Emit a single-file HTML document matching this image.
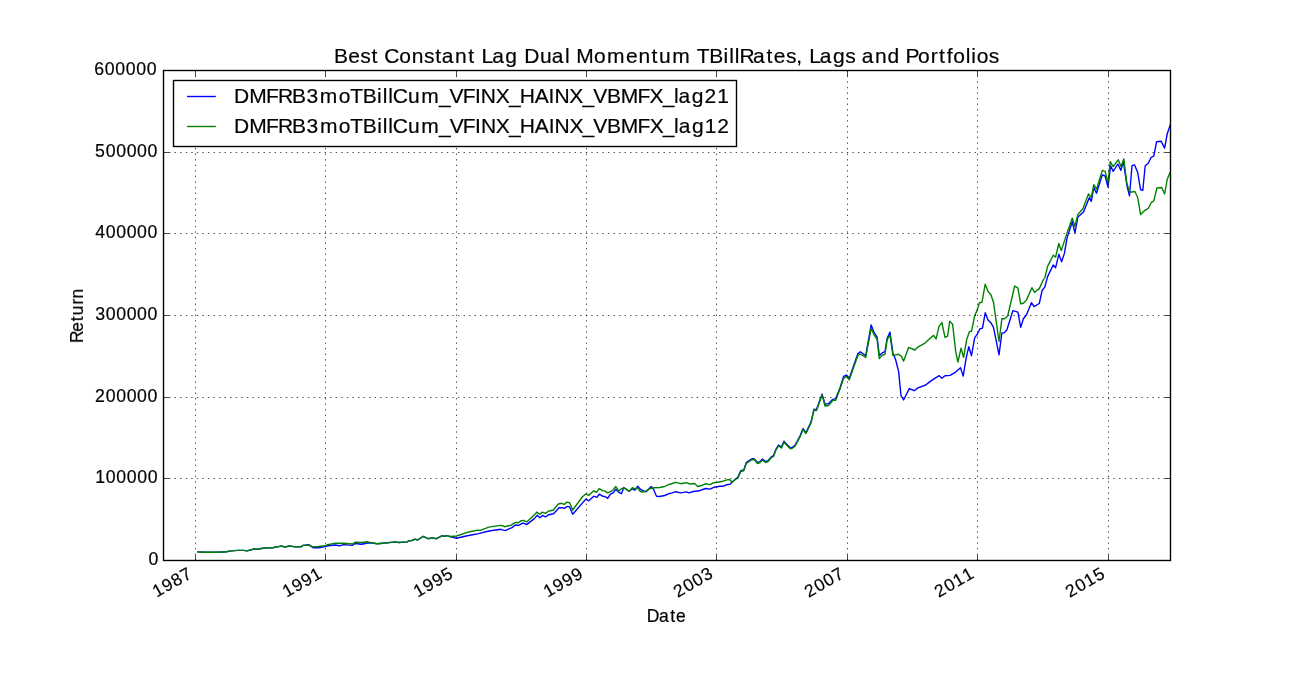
<!DOCTYPE html>
<html><head><meta charset="utf-8"><title>Best Constant Lag Dual Momentum TBillRates, Lags and Portfolios</title>
<style>html,body{margin:0;padding:0;background:#fff;width:1300px;height:700px;overflow:hidden}svg{display:block}text{font-family:"Liberation Sans",sans-serif;fill:#000}.tx{opacity:0.999}.tx text{stroke:#000;stroke-width:0.2px}</style></head><body>
<svg width="1300" height="700" viewBox="0 0 1300 700">
<rect x="0" y="0" width="1300" height="700" fill="#fff"/>
<polyline points="197.1,551.9 205.4,552.3 216.9,552.2 226.2,551.7 231.5,550.9 237.7,550.4 243.8,550.4 246.9,550.9 251.5,549.8 253.8,548.8 256.9,549.2 263.1,548.2 266.9,547.7 273.1,547.8 275.4,546.8 278.5,546.7 281.5,545.8 284.6,547.1 289.2,546.0 295.4,546.9 300.8,546.9 303.1,545.4 308.8,544.6 313.1,547.7 318.5,547.7 325.4,546.5 327.7,545.8 335.4,545.0 339.2,545.8 343.8,544.6 352.3,545.4 355.0,543.5 361.5,544.2 367.7,543.0 372.3,543.0 377.3,543.8 382.7,543.3 395.8,541.9 398.8,542.5 407.3,541.9 408.8,540.8 411.9,540.5 415.0,539.2 417.7,540.0 423.1,536.4 428.1,538.7 431.9,537.9 436.5,538.7 441.9,535.8 444.2,536.2 447.3,535.6 449.6,536.5 454.2,537.7 456.5,538.2 467.3,535.8 470.0,535.3 478.6,533.6 488.9,531.0 500.8,529.3 505.1,530.6 512.0,527.6 515.4,525.0 518.4,525.4 522.3,523.3 524.0,523.3 526.6,524.6 534.3,518.6 537.3,515.3 539.8,517.7 542.8,515.4 545.4,517.0 548.8,514.7 553.5,513.8 559.1,507.8 562.1,507.6 564.3,508.3 567.3,506.4 569.6,506.9 572.7,514.2 585.8,499.1 588.8,500.8 593.8,496.2 596.9,497.3 599.2,494.2 602.7,496.2 605.0,496.5 607.7,498.3 610.4,494.2 613.5,492.7 615.8,489.2 618.8,492.3 621.5,493.7 623.8,487.5 629.2,491.2 632.3,488.8 635.0,490.2 637.7,486.2 640.8,489.6 645.8,491.9 651.2,486.5 653.5,489.2 656.5,496.2 659.6,496.5 664.6,495.5 668.5,493.8 672.3,492.9 675.4,491.7 680.8,492.9 686.2,491.9 689.2,492.9 693.1,491.5 699.2,490.8 705.4,488.5 710.0,489.1 713.8,487.3 720.0,486.3 723.1,486.2 727.7,484.5 730.0,484.2 732.3,481.9 736.2,478.5 737.7,477.6 740.8,470.6 743.8,469.9 746.2,462.6 749.2,460.6 752.3,458.6 754.5,458.9 757.5,462.6 760.0,461.6 762.5,459.1 765.5,461.6 768.0,460.6 771.0,457.1 773.5,455.6 776.0,449.1 778.5,445.1 781.5,447.1 784.0,441.1 787.0,444.6 790.0,447.6 792.0,447.6 795.0,445.3 800.0,436.1 803.0,428.6 806.0,432.6 811.0,422.1 814.0,409.1 816.5,409.6 822.1,394.1 825.0,404.3 828.6,403.6 832.9,399.3 835.7,398.6 840.0,387.9 843.6,376.4 846.4,375.0 849.3,378.3 853.6,365.7 857.9,353.6 860.4,351.7 865.7,355.7 871.1,325.0 874.3,332.9 877.1,337.1 879.3,355.7 882.1,352.9 885.0,351.7 887.1,338.6 890.0,332.1 892.9,352.9 895.7,360.0 898.6,371.4 901.0,395.7 903.6,400.0 909.3,388.6 914.3,390.7 917.9,387.9 925.7,385.0 929.3,382.1 934.3,378.6 939.3,375.7 941.9,378.3 945.0,375.7 950.0,375.4 955.7,372.1 960.5,367.8 963.2,376.1 966.0,358.8 968.8,346.7 971.5,355.7 974.7,337.6 977.0,334.8 979.8,329.0 982.5,328.2 985.2,312.8 988.0,320.0 990.8,322.7 993.5,327.4 999.0,354.9 1001.9,332.9 1004.1,332.9 1006.9,329.7 1012.9,310.6 1017.9,312.1 1020.7,327.4 1023.4,318.7 1026.5,314.8 1031.5,302.6 1034.1,306.6 1039.3,303.5 1042.1,290.5 1044.9,286.8 1047.6,276.6 1053.2,265.0 1055.6,267.7 1058.8,254.3 1061.6,261.7 1064.4,253.4 1067.1,237.6 1072.3,221.8 1074.9,232.9 1077.9,217.1 1083.5,211.9 1089.4,197.6 1091.3,201.4 1093.8,187.5 1096.5,193.2 1102.3,174.8 1105.1,176.0 1108.0,187.2 1110.6,165.7 1113.2,171.4 1117.8,164.0 1120.9,170.4 1123.4,161.5 1126.9,185.5 1129.5,195.8 1132.0,165.7 1134.6,164.9 1137.7,172.6 1140.6,189.8 1142.8,190.3 1145.2,165.7 1148.3,163.2 1150.9,157.7 1153.8,156.0 1156.6,141.7 1161.2,141.2 1164.6,148.1 1167.2,134.0 1170.3,124.6" fill="none" stroke="#0000ff" stroke-width="1.39" stroke-linejoin="round"/>
<polyline points="197.1,551.9 205.4,552.3 216.9,552.2 226.2,551.7 231.5,550.9 237.7,550.4 243.8,550.4 246.9,550.9 251.5,549.8 253.8,548.8 256.9,549.2 263.1,548.2 266.9,547.7 273.1,547.8 275.4,546.8 278.5,546.7 281.5,545.8 284.6,547.1 289.2,546.0 295.4,546.9 300.8,546.9 303.1,545.4 308.8,545.3 313.1,546.9 318.5,546.5 325.4,545.6 327.7,544.6 335.4,543.3 343.8,543.2 352.3,544.0 355.0,542.3 361.5,542.5 367.7,541.8 372.3,543.0 377.3,543.8 382.7,543.3 395.8,541.9 398.8,542.5 407.3,541.9 408.8,540.8 411.9,540.5 415.0,539.2 417.7,540.0 423.1,536.4 428.1,538.7 431.9,537.9 436.5,538.7 441.9,535.8 444.2,536.2 447.3,535.6 449.6,536.5 454.2,536.2 456.5,536.0 467.3,532.3 470.0,531.8 477.7,530.1 480.3,530.4 488.9,527.1 498.3,525.6 501.7,525.4 504.3,526.7 511.1,525.2 515.4,522.4 518.0,522.8 521.4,520.7 523.6,520.4 526.6,522.0 534.3,515.1 536.8,512.1 539.8,514.3 542.4,512.1 545.4,513.4 548.8,511.0 553.1,510.2 558.3,504.0 561.7,503.3 564.3,504.4 566.8,502.1 569.6,502.7 572.7,510.0 582.7,496.5 586.2,493.8 588.5,495.4 593.8,490.8 596.5,492.3 599.2,488.6 602.7,490.6 605.0,491.2 607.7,492.9 612.7,490.4 615.8,486.5 618.8,491.2 621.9,488.5 624.2,488.1 629.2,491.4 632.3,487.7 635.0,488.8 637.3,487.7 640.4,491.5 642.7,492.2 645.8,491.2 649.6,488.8 654.2,487.7 659.6,487.5 664.6,486.5 668.5,484.6 672.3,483.5 675.4,482.3 680.8,483.7 686.2,482.7 690.0,484.0 694.6,483.5 697.7,486.5 700.8,485.8 705.4,483.8 710.0,484.6 713.8,482.7 717.7,482.2 723.1,481.2 727.7,479.6 730.0,479.8 732.3,482.3 736.2,478.5 737.7,478.5 740.8,471.5 743.8,470.8 746.2,463.5 749.2,461.5 752.3,459.5 754.5,459.8 757.5,463.5 760.0,462.5 762.5,460.0 765.5,462.5 768.0,461.5 771.0,458.0 773.5,456.5 776.0,450.0 778.5,446.0 781.5,448.0 784.0,442.0 787.0,445.5 790.0,448.5 792.0,448.5 795.0,446.2 800.0,437.0 803.0,429.5 806.0,433.5 811.0,423.0 814.0,410.0 816.5,410.5 822.1,395.0 825.0,406.0 828.6,405.5 832.9,400.3 835.7,400.3 840.0,389.0 843.6,378.3 846.4,376.4 849.3,379.7 853.6,367.5 857.9,355.4 860.4,354.0 865.7,357.4 871.1,328.6 874.3,335.0 877.1,339.3 879.3,358.6 882.1,355.4 885.0,354.3 887.1,340.0 890.0,335.0 892.9,355.4 898.6,354.3 901.4,356.4 903.6,361.1 908.6,347.4 915.0,350.0 917.9,347.1 925.0,343.1 927.9,340.3 933.6,335.4 936.1,338.9 939.0,326.4 941.9,322.6 945.0,337.4 947.6,336.1 949.7,321.1 952.6,324.3 955.7,351.4 957.9,362.0 961.0,348.3 963.6,357.3 966.8,339.2 969.5,331.6 971.5,331.3 974.7,315.6 977.0,310.6 979.4,302.7 982.0,302.2 985.2,284.2 988.3,292.0 990.8,294.4 993.5,302.2 999.0,341.5 1001.9,318.7 1004.5,318.7 1007.7,315.9 1014.7,286.0 1017.9,288.1 1020.7,303.8 1023.4,303.3 1026.5,299.9 1031.9,287.7 1034.6,292.3 1039.3,288.6 1042.6,281.2 1044.9,277.5 1047.6,266.4 1053.2,255.2 1055.6,257.1 1058.8,243.5 1061.2,250.6 1067.1,232.9 1072.3,218.1 1074.9,226.4 1077.9,214.4 1082.9,208.8 1088.5,193.9 1091.3,197.6 1093.8,184.6 1096.5,189.2 1102.3,170.4 1105.1,171.4 1108.0,182.9 1110.2,161.5 1113.2,166.6 1118.3,159.7 1120.9,166.6 1123.8,158.9 1126.9,183.8 1129.8,192.3 1134.9,191.5 1137.7,197.5 1140.6,214.6 1144.9,210.3 1148.3,208.3 1151.4,202.3 1153.8,200.9 1156.9,188.0 1161.7,187.5 1164.6,194.0 1167.2,179.5 1170.3,171.7" fill="none" stroke="#008000" stroke-width="1.39" stroke-linejoin="round"/>
<g stroke="#000" stroke-width="0.7" stroke-dasharray="1.3889 4.1667" fill="none"><line x1="195.5" y1="560.5" x2="195.5" y2="70.5"/><line x1="325.5" y1="560.5" x2="325.5" y2="70.5"/><line x1="456.5" y1="560.5" x2="456.5" y2="70.5"/><line x1="586.5" y1="560.5" x2="586.5" y2="70.5"/><line x1="716.5" y1="560.5" x2="716.5" y2="70.5"/><line x1="847.5" y1="560.5" x2="847.5" y2="70.5"/><line x1="977.5" y1="560.5" x2="977.5" y2="70.5"/><line x1="1108.5" y1="560.5" x2="1108.5" y2="70.5"/><line x1="163.5" y1="478.5" x2="1170.5" y2="478.5"/><line x1="163.5" y1="397.5" x2="1170.5" y2="397.5"/><line x1="163.5" y1="315.5" x2="1170.5" y2="315.5"/><line x1="163.5" y1="233.5" x2="1170.5" y2="233.5"/><line x1="163.5" y1="152.5" x2="1170.5" y2="152.5"/></g>
<g stroke="#000" stroke-width="0.7" fill="none"><line x1="195.5" y1="560.5" x2="195.5" y2="554.94"/><line x1="195.5" y1="70.5" x2="195.5" y2="76.06"/><line x1="325.5" y1="560.5" x2="325.5" y2="554.94"/><line x1="325.5" y1="70.5" x2="325.5" y2="76.06"/><line x1="456.5" y1="560.5" x2="456.5" y2="554.94"/><line x1="456.5" y1="70.5" x2="456.5" y2="76.06"/><line x1="586.5" y1="560.5" x2="586.5" y2="554.94"/><line x1="586.5" y1="70.5" x2="586.5" y2="76.06"/><line x1="716.5" y1="560.5" x2="716.5" y2="554.94"/><line x1="716.5" y1="70.5" x2="716.5" y2="76.06"/><line x1="847.5" y1="560.5" x2="847.5" y2="554.94"/><line x1="847.5" y1="70.5" x2="847.5" y2="76.06"/><line x1="977.5" y1="560.5" x2="977.5" y2="554.94"/><line x1="977.5" y1="70.5" x2="977.5" y2="76.06"/><line x1="1108.5" y1="560.5" x2="1108.5" y2="554.94"/><line x1="1108.5" y1="70.5" x2="1108.5" y2="76.06"/><line x1="163.5" y1="560.5" x2="169.06" y2="560.5"/><line x1="1170.5" y1="560.5" x2="1164.94" y2="560.5"/><line x1="163.5" y1="478.5" x2="169.06" y2="478.5"/><line x1="1170.5" y1="478.5" x2="1164.94" y2="478.5"/><line x1="163.5" y1="397.5" x2="169.06" y2="397.5"/><line x1="1170.5" y1="397.5" x2="1164.94" y2="397.5"/><line x1="163.5" y1="315.5" x2="169.06" y2="315.5"/><line x1="1170.5" y1="315.5" x2="1164.94" y2="315.5"/><line x1="163.5" y1="233.5" x2="169.06" y2="233.5"/><line x1="1170.5" y1="233.5" x2="1164.94" y2="233.5"/><line x1="163.5" y1="152.5" x2="169.06" y2="152.5"/><line x1="1170.5" y1="152.5" x2="1164.94" y2="152.5"/><line x1="163.5" y1="70.5" x2="169.06" y2="70.5"/><line x1="1170.5" y1="70.5" x2="1164.94" y2="70.5"/></g>
<rect x="163.5" y="70.5" width="1007" height="490" fill="none" stroke="#000" stroke-width="1.39"/>
<rect x="173.5" y="80.5" width="563" height="66" fill="#fff" stroke="#000" stroke-width="1.39"/>
<line x1="187" x2="215.8" y1="96.5" y2="96.5" stroke="#0000ff" stroke-width="1.39"/>
<line x1="187" x2="215.8" y1="126.5" y2="126.5" stroke="#008000" stroke-width="1.39"/>
<g class="tx">
<text x="234.11 249.31 266.03 277.98 292.06 306.56 319.85 338.63 350.33 362.72 377.11 382.68 388.25 392.69 407.88 421.21 438.90 449.58 462.77 475.05 480.85 495.79 508.92 519.70 534.69 548.61 554.41 569.35 582.49 593.16 606.89 620.73 637.46 649.53 662.66 673.93 678.61 691.77 704.38 717.32" y="103.10" font-size="21">DMFRB3moTBillCum_VFINX_HAINX_VBMFX_lag21</text>
<text x="234.11 249.32 266.05 277.99 292.08 306.58 319.88 338.66 350.37 362.76 377.15 382.72 388.30 392.74 407.93 421.27 438.97 449.65 462.85 475.12 480.93 495.87 509.01 519.79 534.79 548.71 554.52 569.46 582.60 593.28 607.01 620.86 637.59 649.66 662.80 674.07 678.76 691.92 704.69 717.31" y="132.80" font-size="21">DMFRB3moTBillCum_VFINX_HAINX_VBMFX_lag12</text>
<text x="333.88 348.17 360.26 371.55 378.73 384.14 399.15 411.68 423.95 435.25 441.71 455.01 468.13 475.30 481.58 492.14 505.29 517.89 524.17 539.92 551.71 564.91 570.30 576.32 594.02 607.07 625.91 638.44 651.56 658.94 672.26 690.99 696.82 709.20 723.58 729.15 734.72 739.55 752.88 766.59 773.86 785.95 796.35 802.94 809.21 819.77 832.92 845.37 855.97 861.63 874.94 887.50 900.10 905.58 917.88 930.87 939.06 946.84 953.33 965.76 971.34 976.75 988.84" y="62.80" font-size="21">Best Constant Lag Dual Momentum TBillRates, Lags and Portfolios</text>
<text x="148.52" y="564.60" font-size="17.7">0</text>
<text x="95.14 105.73 116.23 126.73 137.22 147.72" y="482.60" font-size="17.7">100000</text>
<text x="94.91 105.63 116.13 126.63 137.12 147.62" y="401.60" font-size="17.7">200000</text>
<text x="95.16 105.63 116.13 126.63 137.12 147.62" y="319.60" font-size="17.7">300000</text>
<text x="95.13 105.63 116.13 126.63 137.12 147.62" y="237.60" font-size="17.7">400000</text>
<text x="95.07 105.63 116.13 126.63 137.12 147.62" y="156.60" font-size="17.7">500000</text>
<text x="94.23 104.73 115.23 125.73 136.22 146.72" y="74.60" font-size="17.7">600000</text>
<text transform="translate(193.30,576.80) rotate(-30)" x="-42.07 -31.43 -20.78 -10.21" y="0.00" font-size="17.5">1987</text>
<text transform="translate(323.30,576.80) rotate(-30)" x="-42.07 -31.43 -20.83 -10.26" y="0.00" font-size="17.5">1991</text>
<text transform="translate(454.30,576.80) rotate(-30)" x="-42.07 -31.43 -20.83 -10.24" y="0.00" font-size="17.5">1995</text>
<text transform="translate(584.30,576.80) rotate(-30)" x="-42.07 -31.43 -20.83 -10.23" y="0.00" font-size="17.5">1999</text>
<text transform="translate(714.30,576.80) rotate(-30)" x="-42.20 -31.38 -20.78 -10.15" y="0.00" font-size="17.5">2003</text>
<text transform="translate(845.30,576.80) rotate(-30)" x="-42.20 -31.38 -20.78 -10.21" y="0.00" font-size="17.5">2007</text>
<text transform="translate(975.30,576.80) rotate(-30)" x="-42.20 -31.38 -20.86 -10.26" y="0.00" font-size="17.5">2011</text>
<text transform="translate(1106.30,576.80) rotate(-30)" x="-42.20 -31.38 -20.86 -10.24" y="0.00" font-size="17.5">2015</text>
<text x="646.79 658.90 670.13 676.01" y="621.85" font-size="17.5">Date</text>
<text transform="translate(83.00,341.10) rotate(-90)" x="-2.00 9.17 19.74 25.67 36.48 42.49" y="0.00" font-size="17.5">Return</text>
</g>
</svg></body></html>
